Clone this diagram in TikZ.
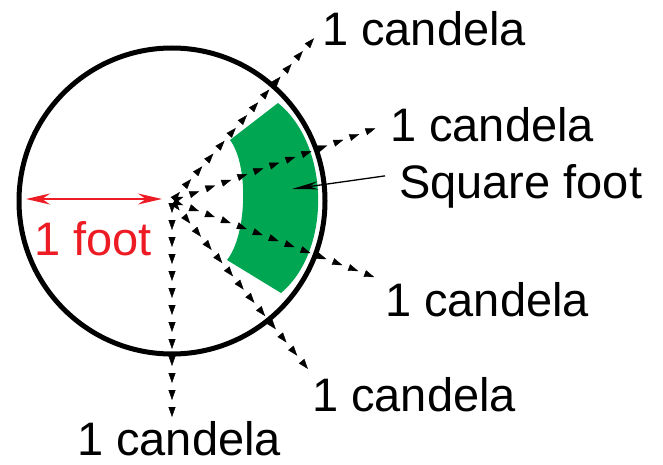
\documentclass[tikz,border=0pt]{standalone}
\usepackage{fontspec}
\setmainfont{Liberation Sans}
\usetikzlibrary{arrows.meta,decorations.markings}
\definecolor{patchgreen}{RGB}{0,166,81}
\definecolor{footred}{RGB}{237,28,36}

\begin{document}
\begin{tikzpicture}[x=1pt,y=-1pt,
  lbl/.style={inner sep=0pt,anchor=base west,font=\fontsize{47}{50}\selectfont},
  ray/.style={draw=none,postaction={decorate,decoration={markings,
    mark=between positions 12pt and 1 step 17pt with {\arrow{Triangle[length=10pt,width=7pt]}}}}}]
\useasboundingbox (0,0) rectangle (663,465);

\coordinate (c) at (172,201);
% the square foot patch
\fill[patchgreen] (230,140) -- (278,103) .. controls (330,145) and (332,250) .. (281,293)
  -- (227,260) .. controls (247,235) and (249,165) .. (230,140);
\draw[line width=5pt] (c) circle[radius=153pt];

\node[lbl] (l1) at (322,46) {1 candela};
\node[lbl] (l2) at (390,142) {1 candela};
\node[lbl] (sq) at (399,198) {Square foot};
\node[lbl] (l3) at (385,316) {1 candela};
\node[lbl] (l4) at (312,411) {1 candela};
\node[lbl] (l5) at (77,455) {1 candela};
\node[lbl,text=footred] (ft) at (34,255) {1 foot};

\coordinate (e1) at (316,36);
\coordinate (e2) at (382,126);
\coordinate (e3) at (382,280);
\coordinate (e4) at (312,374);
\coordinate (e5) at (172,422);
\coordinate (sqtip) at (292,189);
\coordinate (fl) at (26,199);
\coordinate (fr) at (162,199);

\path (c) edge[ray] (e1)
	edge[ray] (e2)
	edge[ray] (e3)
	edge[ray] (e4)
	edge[ray] (e5);

\draw[line width=1.3pt,-{Stealth[length=26pt,width=8pt]}] ([shift={(-14,-10)}]sq.west) -- (sqtip);
\draw[footred,line width=2pt,{Stealth[length=24pt,width=11pt]}-{Stealth[length=24pt,width=11pt]}] (fl) -- (fr);
\end{tikzpicture}
\end{document}
